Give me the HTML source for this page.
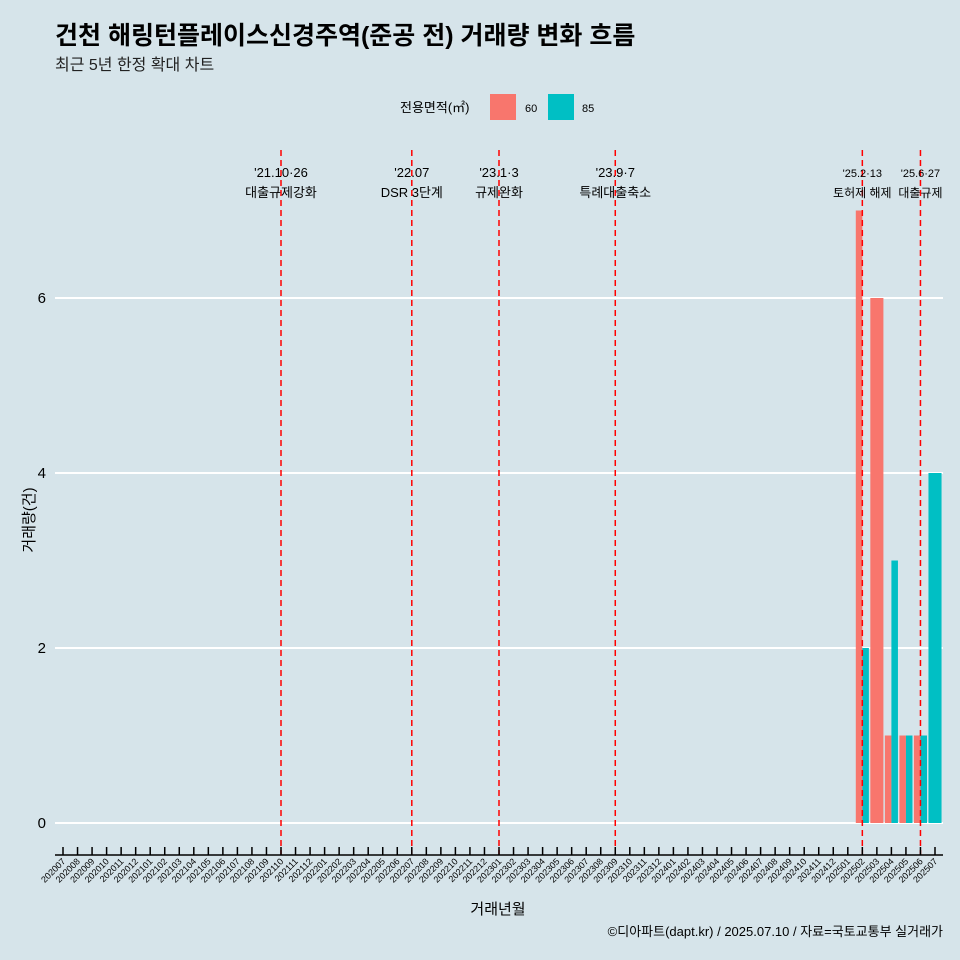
<!DOCTYPE html>
<html><head><meta charset="utf-8">
<style>
body{margin:0;background:#d6e4ea;}
svg{display:block;font-family:"Liberation Sans","Noto Sans CJK KR",sans-serif;}
</style></head><body>
<svg id="c" width="960" height="960" viewBox="0 0 960 960">
<rect width="960" height="960" fill="#d6e4ea"/>
<text x="55" y="44" font-size="25" font-weight="bold" fill="#000">건천 해링턴플레이스신경주역(준공 전) 거래량 변화 흐름</text>
<text x="55" y="70" font-size="16" fill="#222">최근 5년 한정 확대 차트</text>
<g>
<text x="400" y="112" font-size="13">전용면적(㎡)</text>
<rect x="490" y="94" width="26" height="26" fill="#f8766d"/>
<text x="525" y="112" font-size="11">60</text>
<rect x="548" y="94" width="26" height="26" fill="#00bfc4"/>
<text x="582" y="112" font-size="11">85</text>
</g>
<g id="grid"></g><g id="bars"></g><g id="events"></g><g id="xaxis"></g>
<text transform="translate(34,520) rotate(-90)" text-anchor="middle" font-size="15">거래량(건)</text>
<text x="498" y="914" text-anchor="middle" font-size="15">거래년월</text>
<text x="943" y="936" text-anchor="end" font-size="13">©디아파트(dapt.kr) / 2025.07.10 / 자료=국토교통부 실거래가</text>
</svg>
<script>
const months=[];for(let y=2020;y<=2025;y++)for(let m=1;m<=12;m++){const k=y*100+m;if(k>=202007&&k<=202507)months.push(String(k));}
const cat60=["202502","202503","202504","202505","202506"];
const val60=[7,6,1,1,1];
const cat85=["202502","202504","202505","202506","202507"];
const val85=[2,3,1,1,4];
const yTicks=[0,2,4,6];
const evMonths=["202110","202207","202301","202309","202502","202506"];
const evDates=["'21.10·26","'22.07","'23.1·3","'23.9·7","'25.2·13","'25.6·27"];
const evLabels=["대출규제강화","DSR 3단계","규제완화","특례대출축소","토허제 해제","대출규제"];
const NS="http://www.w3.org/2000/svg";
const x0=63,step=(935-63)/(months.length-1);
const xs=m=>x0+months.indexOf(m)*step;
const ys=v=>823-v*87.5;
function mk(t,a,p){const e=document.createElementNS(NS,t);for(const k in a)e.setAttribute(k,a[k]);p.appendChild(e);return e;}
const grid=document.getElementById('grid');
yTicks.forEach(v=>{
 const l=mk('line',{x1:55,x2:943,y1:ys(v),y2:ys(v),stroke:'#fff','stroke-width':2},grid);
 
 
 const t=mk('text',{x:46,y:ys(v)+5,'text-anchor':'end','font-size':15},grid);t.textContent=v;
 
 
});
const bars=document.getElementById('bars');
const bw=step*0.9;
function drawBar(m,v,col,side,both){
 const c=xs(m);let x,w;
 if(both){w=bw/2;x=side===0?c-w:c;}else{w=bw;x=c-w/2;}
 const r=mk('rect',{x:x,y:ys(v),width:w,height:ys(0)-ys(v),fill:col},bars);
 
 
}
cat60.forEach((m,i)=>drawBar(m,val60[i],'#f8766d',0,cat85.includes(m)));
cat85.forEach((m,i)=>drawBar(m,val85[i],'#00bfc4',1,cat60.includes(m)));
const ev=document.getElementById('events');
evMonths.forEach((m,i)=>{
 const x=xs(m);
 const l=mk('line',{x1:x,x2:x,y1:150,y2:855,stroke:'#ff0000','stroke-width':1.5,'stroke-dasharray':'6,4'},ev);
 
 
 const small=i>=4;
 const t1=mk('text',{x:x,y:177,'text-anchor':'middle','font-size':small?11:13},ev);t1.textContent=evDates[i];
 
 
 const t2=mk('text',{x:x,y:197,'text-anchor':'middle','font-size':small?12:13},ev);t2.textContent=evLabels[i];
 
 
});
const xa=document.getElementById('xaxis');
const al=mk('line',{x1:55,x2:943,y1:855,y2:855,stroke:'#000','stroke-width':1.5},xa);


months.forEach(m=>{
 const x=xs(m);
 const tk=mk('line',{x1:x,x2:x,y1:847,y2:855,stroke:'#000','stroke-width':1.5},xa);
 
 
 const t=mk('text',{transform:`translate(${x+3},${862}) rotate(-45)`,'text-anchor':'end','font-size':9},xa);t.textContent=m;
 
 
});
</script>
</body></html>
